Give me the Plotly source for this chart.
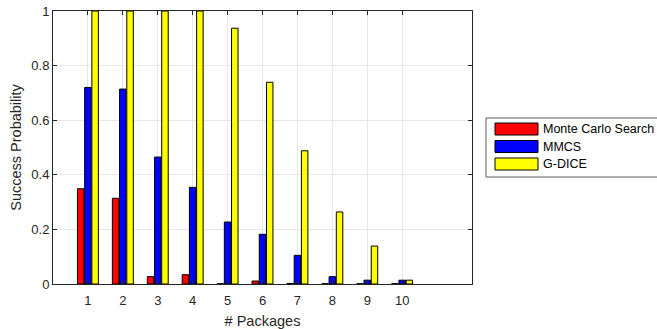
import plotly.graph_objects as go

packages = [1, 2, 3, 4, 5, 6, 7, 8, 9, 10]
monte_carlo = [0.349, 0.314, 0.027, 0.034, 0.001, 0.011, 0.002, 0.001, 0.001, 0.001]
mmcs = [0.720, 0.714, 0.465, 0.354, 0.227, 0.182, 0.105, 0.027, 0.014, 0.014]
gdice = [1.0, 1.0, 1.0, 1.0, 0.937, 0.739, 0.488, 0.264, 0.139, 0.014]

series_names = ["Monte Carlo Search", "MMCS", "G-DICE"]
series_values = [monte_carlo, mmcs, gdice]
series_colors = ["#ff0000", "#0000ff", "#ffff00"]

y_ticks = [0, 0.2, 0.4, 0.6, 0.8, 1]
y_tick_labels = ["0", "0.2", "0.4", "0.6", "0.8", "1"]

fig = go.Figure()
for name, vals, col in zip(series_names, series_values, series_colors):
    fig.add_trace(go.Bar(x=packages, y=vals, name=name, marker=dict(color=col, line=dict(color="black", width=1)),
                         showlegend=False))

axcol = "#262626"
fig.update_layout(
    width=657, height=329,
    margin=dict(l=53, r=185, t=11, b=45),
    paper_bgcolor="white", plot_bgcolor="white",
    barmode="group", bargap=0.38, bargroupgap=0.1,
    font=dict(family="Liberation Sans, Arial, sans-serif", size=13, color=axcol),
    xaxis=dict(range=[0, 12], tickvals=packages, ticktext=[str(p) for p in packages],
               showline=True, linecolor=axcol, linewidth=1, mirror="ticks",
               ticks="inside", ticklen=4, tickcolor=axcol, automargin=False,
               ticklabelstandoff=4,
               showgrid=True, gridcolor="#e6e6e6", gridwidth=1, zeroline=False,
               title=dict(text="# Packages", font=dict(size=14.5), standoff=10)),
    yaxis=dict(range=[0, 1], tickvals=y_ticks, ticktext=y_tick_labels,
               showline=True, linecolor=axcol, linewidth=1, mirror="ticks",
               ticks="inside", ticklen=4, tickcolor=axcol, automargin=False,
               showgrid=True, gridcolor="#e6e6e6", gridwidth=1, zeroline=False,
               title=dict(text="Success Probability", font=dict(size=14.5), standoff=6)),
)

# custom legend (MATLAB style) in paper coordinates
px0, px1 = 53, 472
py0, py1 = 11, 284
def xp(px):
    return (px - px0) / (px1 - px0)
def yp(py):
    return (py1 - py) / (py1 - py0)

fig.add_shape(type="rect", xref="paper", yref="paper", x0=xp(486), x1=xp(660), y0=yp(177), y1=yp(118),
              line=dict(color="#5a5a5a", width=1), fillcolor="white", layer="above")
for i, (name, col) in enumerate(zip(series_names, series_colors)):
    yc = 129 + i * 17.5
    fig.add_shape(type="rect", xref="paper", yref="paper", x0=xp(495), x1=xp(538), y0=yp(yc + 6), y1=yp(yc - 6),
                  line=dict(color="black", width=1), fillcolor=col, layer="above")
    fig.add_annotation(xref="paper", yref="paper", x=xp(542), y=yp(yc), text=name, showarrow=False,
                       xanchor="left", yanchor="middle", borderpad=0, font=dict(size=12.5, color="black"))

fig.write_html("out.html", config={"displayModeBar": False})
with open("out.html", "r", encoding="utf-8") as f:
    html = f.read()
html = html.replace("<head>", "<head><style>html,body{margin:0;padding:0;overflow:hidden;}</style>", 1)
with open("out.html", "w", encoding="utf-8") as f:
    f.write(html)
